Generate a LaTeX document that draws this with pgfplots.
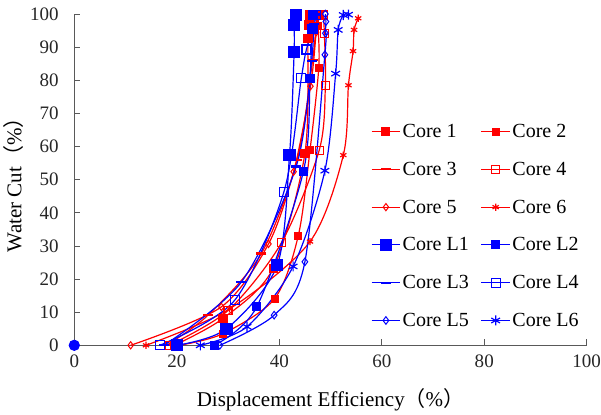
\documentclass[border=0pt]{standalone}
\usepackage{fontspec}
\setmainfont{Liberation Serif}
\newfontfamily\cjk{Noto Sans CJK SC}
\usepackage{pgfplots}
\pgfplotsset{compat=1.18}
\definecolor{cred}{RGB}{255,0,0}
\definecolor{cblue}{RGB}{0,0,255}
\begin{document}
\begin{tikzpicture}
\begin{axis}[
  scale only axis,
  width=512pt, height=331pt,
  xmin=0, xmax=100, ymin=0, ymax=100,
  xtick={0,20,...,100}, ytick={0,10,...,100},
  xticklabels={0,20,40,60,80,100},
  yticklabels={0,10,20,30,40,50,60,70,80,90,100},
  axis x line=bottom, axis y line=left,
  axis line style={-, black!65, line width=0.8pt},
  tick style={black!65, line width=0.8pt},
  tick align=inside, major tick length=6pt,
  ticklabel style={font=\fontsize{19}{21}\selectfont, text=black!85},
  xticklabel style={yshift=-6pt, inner xsep=0pt},
  yticklabel style={xshift=-12pt},
  xlabel={Displacement Efficiency{\cjk（}\%{\cjk）}},
  ylabel={Water Cut{\cjk（}\%{\cjk）}},
  label style={font=\fontsize{21}{23}\selectfont},
  xlabel style={yshift=-14pt},
  ylabel style={yshift=0pt},
  every axis plot/.append style={line width=1.2pt, smooth, tension=0.5},
  legend columns=2,
  legend style={draw=none, fill=none, at={(0.573,0.68)}, anchor=north west,
    font=\fontsize{20}{22}\selectfont, row sep=19pt,
    /tikz/every even column/.append style={column sep=10pt}},
  legend cell align=left,
  legend image code/.code={\draw[mark repeat=2,mark phase=2,line width=1.1pt]
    plot coordinates {(0cm,0cm)(0.5cm,0cm)(1cm,0cm)};},
  after end axis/.code={\path (rel axis cs:0,1) ++(0,14pt);},
]
% Core 1
\addplot[cred, mark=square*, mark size=4pt, mark options={solid,fill=cred}] coordinates {
(19.5,0) (29,8.1) (38.8,23.2) (45,57.9) (45.6,92.5) (45.8,96.7) (46,99.7)};
% Core 2
\addplot[cred, mark=square*, mark size=3.4pt, mark options={solid,fill=cred}] coordinates {
(20.5,0) (29,3.5) (39.1,14.1) (43.7,33) (46,58.9) (47.7,83.6) (47.6,96.5) (47.8,99.7)};
% Core 3
\addplot[cred, mark=-, mark size=5pt, mark options={solid,line width=2.2pt}] coordinates {
(18,0) (26.1,9.1) (36.5,27.7) (43.5,56) (46.5,86) (47.2,97) (47.5,100)};
% Core 4
\addplot[cred, mark=square, mark size=4pt, mark options={solid,fill=white,line width=1.1pt}] coordinates {
(18.5,0) (30,10.5) (40.4,30.9) (47.8,58.9) (49,78.5) (48.8,94) (48.6,99.7)};
% Core 5
\addplot[cred, mark=diamond, mark size=3.6pt, mark options={solid,fill=white,line width=1pt}] coordinates {
(11,0) (28.7,11.6) (37.9,30.6) (42.8,52.4) (46.1,78.2) (47.2,94.5) (47.5,99.7)};
% Core 6
\addplot[cred, mark=asterisk, mark size=3.6pt, mark options={solid,line width=1.2pt}] coordinates {
(14,0) (30.3,11) (46,31.3) (52.5,57.4) (53.5,78.5) (54.4,88.8) (54.6,95.2) (55.4,98.7)};
% Core L1
\addplot[cblue, mark=square*, mark size=5.5pt, mark options={solid,fill=cblue}] coordinates {
(20,0) (29.7,5) (39.6,24.2) (42,57.4) (42.9,88.6) (42.9,96.7) (43.2,99.7)};
% Core L2
\addplot[cblue, mark=square*, mark size=4pt, mark options={solid,fill=cblue}] coordinates {
(27.3,0) (35.6,11.6) (44.7,52.4) (46,80.6) (46.4,95.5) (46.6,99.7)};
% Core L3
\addplot[cblue, mark=-, mark size=5pt, mark options={solid,line width=2.4pt}] coordinates {
(17.5,0) (32.6,19.1) (43.3,54) (46.3,85.8) (46.7,97) (47,99.8)};
% Core L4
\addplot[cblue, mark=square, mark size=4.5pt, mark options={solid,fill=white,line width=1.2pt}] coordinates {
(16.7,0) (31.3,13.6) (40.9,46.3) (44.3,80.6) (45.3,89.3) (46.6,95.4) (47.2,99.7)};
% Core L5
\addplot[cblue, mark=diamond, mark size=3.8pt, mark options={solid,fill=white,line width=1pt}] coordinates {
(28.4,0) (39,9.1) (45,25.2) (48.9,87.7) (49,94.2) (49.1,97.7) (49,100)};
% Core L6
\addplot[cblue, mark=asterisk, mark size=5pt, mark options={solid,line width=1.2pt}] coordinates {
(24.6,0) (33.7,5.6) (42.7,23.8) (48.9,52.7) (51,82) (51.5,95.2) (52.5,99.7) (53.5,99.8)};
% origin point
\addplot[cblue, only marks, mark=*, mark size=5pt, forget plot] coordinates {(0,0)};
\legend{Core 1, Core 2, Core 3, Core 4, Core 5, Core 6,
        Core L1, Core L2, Core L3, Core L4, Core L5, Core L6}
\end{axis}
\end{tikzpicture}
\end{document}
